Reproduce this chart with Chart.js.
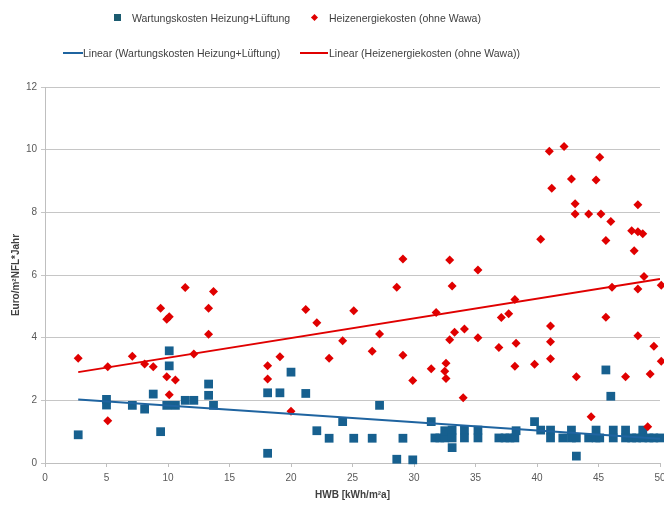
<!DOCTYPE html>
<html>
<head>
<meta charset="utf-8">
<script src="https://cdn.jsdelivr.net/npm/chart.js@4"></script>
<style>
  body { margin: 0; width: 664px; height: 505px; overflow: hidden; background: #fff; position: relative; }
  #wrap { position: absolute; left: 0; top: 0; width: 700px; height: 505px; }
  .leg { position: absolute; font-family: "Liberation Sans Narrow", "Liberation Sans", sans-serif; font-size: 10.5px; color: #404040; white-space: nowrap; line-height: 12px; }
  .mk { position: absolute; }
</style>
</head>
<body>
<div id="wrap"><canvas id="chart" width="700" height="505"></canvas></div>

<div class="mk" style="left:114px;top:14px;width:7px;height:7px;background:#1b5b70;"></div>
<div class="leg" style="left:132px;top:12px;">Wartungskosten Heizung+Lüftung</div>
<div class="mk" style="left:312px;top:15px;width:5px;height:5px;background:#e00000;transform:rotate(45deg);"></div>
<div class="leg" style="left:329px;top:12px;">Heizenergiekosten (ohne Wawa)</div>
<div class="mk" style="left:63px;top:52px;width:20px;height:2px;background:#1f64a0;"></div>
<div class="leg" style="left:83px;top:47px;">Linear (Wartungskosten Heizung+Lüftung)</div>
<div class="mk" style="left:300px;top:52px;width:28px;height:2px;background:#e00000;"></div>
<div class="leg" style="left:329px;top:47px;">Linear (Heizenergiekosten (ohne Wawa))</div>

<script>
// Wartungskosten Heizung+Lüftung
const wartungX = [2.7, 5.0, 5.0, 7.1, 8.1, 8.8, 9.4, 10.1, 10.1, 9.9, 10.6, 11.4, 12.1, 13.3, 13.3, 13.7,
  18.1, 19.1, 20.0, 21.2, 18.1, 22.1, 23.1, 24.2, 25.1, 26.6, 27.2, 28.6, 29.1, 29.9,
  31.4, 31.7, 32.1, 32.5, 32.5, 33.1, 33.1, 33.1, 34.1, 34.1, 35.2, 35.2, 36.9, 37.4, 37.8, 38.2, 38.3,
  39.8, 40.3, 41.1, 41.1, 42.1, 42.8, 42.8, 43.2, 43.2, 44.2, 44.8, 44.8, 45.1, 45.6, 46.0, 46.2, 46.2,
  47.2, 47.2, 47.7, 48.1, 48.6, 48.6, 49.1, 49.5, 50.0];
const wartungY = [0.9, 2.03, 1.85, 1.84, 1.72, 2.2, 1.0, 3.58, 3.1, 1.84, 1.84, 2.0, 2.0, 2.52, 2.16, 1.84,
  2.24, 2.24, 2.9, 2.22, 0.31, 1.03, 0.79, 1.32, 0.79, 0.79, 1.84, 0.12, 0.79, 0.1,
  1.32, 0.8, 0.8, 0.8, 1.03, 1.05, 0.8, 0.49, 1.05, 0.8, 1.05, 0.8, 0.8, 0.8, 0.8, 0.8, 1.03,
  1.32, 1.05, 1.05, 0.8, 0.8, 1.05, 0.8, 0.22, 0.8, 0.8, 1.05, 0.8, 0.8, 2.97, 2.13, 1.05, 0.8,
  1.05, 0.8, 0.8, 0.8, 1.05, 0.8, 0.8, 0.8, 0.8];

// Heizenergiekosten (ohne Wawa)
const heizX = [2.7, 5.1, 5.1, 7.1, 8.1, 8.8, 9.4, 9.9, 10.1, 9.9, 10.6, 10.1, 12.1, 13.3, 13.3, 11.4, 13.7,
  18.1, 18.1, 19.1, 20.0, 21.2, 22.1, 23.1, 24.2, 25.1, 26.6, 27.2, 28.6, 29.1, 29.1, 29.9,
  31.4, 31.8, 32.5, 32.6, 32.6, 32.9, 33.1, 32.9, 33.3, 34.1, 34.0, 35.2, 35.2, 36.9, 37.1, 37.7,
  38.2, 38.2, 38.3, 39.8, 40.3, 41.0, 42.2, 41.2, 42.8, 43.1, 43.1, 44.2, 45.2, 44.8, 45.1, 46.0, 45.6,
  41.1, 41.1, 41.1, 43.2, 44.4, 45.6, 46.1, 47.2, 47.7, 48.2, 48.6, 48.2, 47.9, 48.2, 48.7, 48.2,
  49.2, 49.5, 49.0, 50.1, 50.1];
const heizY = [3.34, 3.07, 1.35, 3.41, 3.16, 3.07, 4.94, 4.59, 4.67, 2.75, 2.65, 2.18, 3.48, 4.94, 4.11, 5.6, 5.47,
  3.1, 2.68, 3.39, 1.65, 4.9, 4.48, 3.34, 3.9, 4.86, 3.57, 4.12, 5.61, 6.51, 3.44, 2.63,
  3.01, 4.8, 2.93, 3.18, 2.7, 6.48, 5.65, 3.93, 4.17, 4.28, 2.08, 4.0, 6.16, 3.69, 4.64, 4.76,
  5.22, 3.09, 3.82, 3.15, 7.14, 9.95, 10.1, 8.77, 9.06, 8.27, 7.95, 7.95, 7.95, 9.03, 9.76, 7.71, 7.1,
  4.37, 3.87, 3.33, 2.75, 1.48, 4.65, 5.61, 2.75, 7.41, 7.38, 7.32, 8.24, 6.77, 5.55, 5.95, 4.06,
  2.84, 3.73, 1.16, 5.67, 3.25];

// linear trend lines, endpoints
const trendX = [2.7, 50];
const wartungTrend = [2.03, 0.77];
const heizTrend = [2.9, 5.87];

const xTicks = [0, 5, 10, 15, 20, 25, 30, 35, 40, 45, 50];
const yTicks = [0, 2, 4, 6, 8, 10, 12];

const toPoints = (xs, ys) => xs.map((x, i) => ({ x: x, y: ys[i] }));

const tickFont = { family: 'Liberation Sans', size: 10 };
const titleFont = { family: 'Liberation Sans', size: 10, weight: 'bold' };

new Chart(document.getElementById('chart'), {
  type: 'scatter',
  data: {
    datasets: [
      {
        label: 'Linear (Wartungskosten Heizung+Lüftung)',
        type: 'line',
        data: toPoints(trendX, wartungTrend),
        borderColor: '#1f64a0',
        borderWidth: 2,
        pointRadius: 0,
        fill: false,
      },
      {
        label: 'Linear (Heizenergiekosten (ohne Wawa))',
        type: 'line',
        data: toPoints(trendX, heizTrend),
        borderColor: '#e00000',
        borderWidth: 2,
        pointRadius: 0,
        fill: false,
      },
      {
        label: 'Heizenergiekosten (ohne Wawa)',
        data: toPoints(heizX, heizY),
        pointStyle: 'rectRot',
        pointRadius: 4.5,
        backgroundColor: '#e00000',
        borderColor: '#e00000',
        borderWidth: 0,
        clip: false,
      },
      {
        label: 'Wartungskosten Heizung+Lüftung',
        data: toPoints(wartungX, wartungY),
        pointStyle: 'rect',
        pointRadius: 6.2,
        backgroundColor: '#17608f',
        borderColor: '#17608f',
        borderWidth: 0,
        clip: false,
      },
    ],
  },
  options: {
    responsive: false,
    animation: false,
    layout: { padding: { top: 87, right: 40, left: 0, bottom: 0 } },
    plugins: { legend: { display: false }, tooltip: { enabled: false } },
    scales: {
      x: {
        type: 'linear',
        min: 0,
        max: 50,
        afterBuildTicks: (scale) => { scale.ticks = xTicks.map(v => ({ value: v })); },
        afterFit: (scale) => { scale.height = 42; },
        ticks: { color: '#595959', font: tickFont, padding: 5 },
        grid: { drawOnChartArea: false, drawTicks: true, tickLength: 4, color: '#bfbfbf' },
        border: { color: '#bfbfbf' },
        title: { display: true, text: 'HWB [kWh/m²a]', color: '#404040', font: titleFont, padding: { top: 4, bottom: 4 } },
      },
      y: {
        min: 0,
        max: 12,
        afterBuildTicks: (scale) => { scale.ticks = yTicks.map(v => ({ value: v })); },
        afterFit: (scale) => { scale.width = 45; },
        ticks: { color: '#595959', font: tickFont, padding: 4 },
        grid: { color: '#c6c6c6', tickLength: 4 },
        border: { color: '#bfbfbf' },
        title: { display: true, text: 'Euro/m²NFL*Jahr', color: '#404040', font: titleFont, padding: { top: 10, bottom: 0 } },
      },
    },
  },
});
</script>
</body>
</html>
